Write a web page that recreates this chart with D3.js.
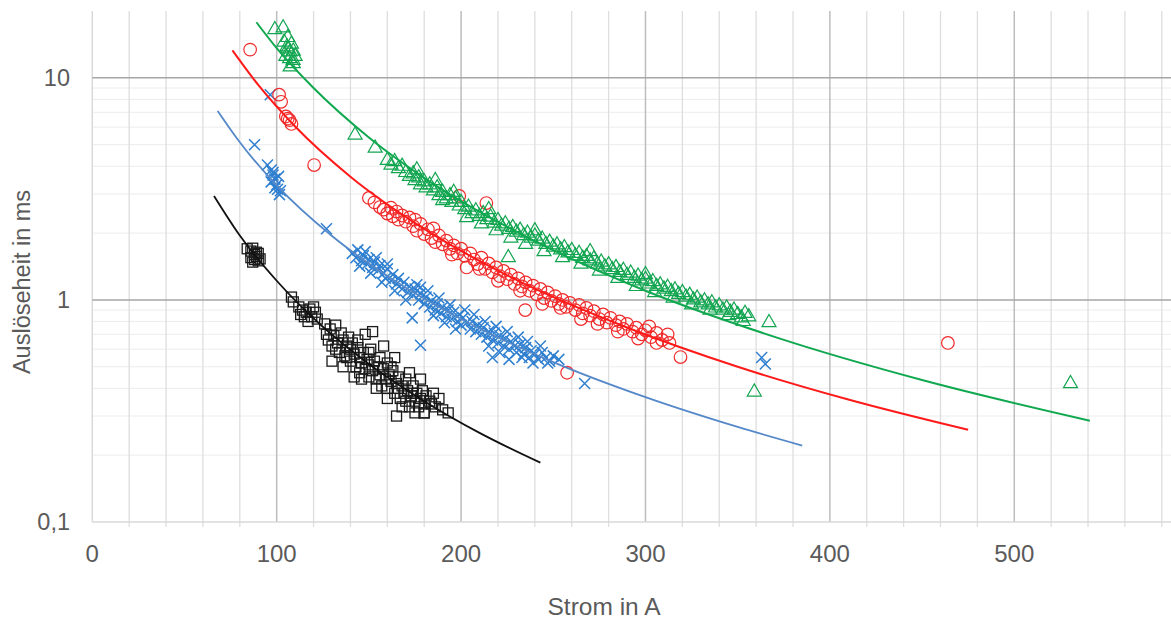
<!DOCTYPE html>
<html>
<head>
<meta charset="utf-8">
<script src="https://cdn.jsdelivr.net/npm/d3@7"></script>
<style>
  html, body { margin: 0; padding: 0; background: #fff; }
  svg { display: block; }
  text { font-family: "Liberation Sans", Arial, sans-serif; fill: #5a5a5a; }
</style>
</head>
<body>
<svg id="chart" width="1171" height="622"></svg>
<script>
// Measured trip times (ms) against current (A), four breaker types
const blackPts = [
  [84,1.70],[86,1.66],[87,1.71],[88,1.60],[88,1.52],[89,1.57],[90,1.50],[89,1.64],[86,1.55],[90,1.62],[91,1.53],[87,1.48],
  [108,1.03],[109,0.98],[112,0.93],[114,0.90],[116,0.88],[118,0.91],[115,0.84],[113,0.86],[120,0.93],[119,0.84],[117,0.80],[121,0.88],[122,0.82],
  [126,0.78],[127,0.70],[128,0.66],[129,0.74],[130,0.62],[131,0.69],[132,0.77],[133,0.64],[134,0.58],[135,0.71],[136,0.66],[137,0.56],
  [138,0.62],[139,0.68],[140,0.60],[140,0.53],[141,0.64],[142,0.57],[143,0.50],[144,0.61],[145,0.55],[145,0.47],[146,0.52],[147,0.58],
  [148,0.49],[149,0.54],[150,0.45],[150,0.51],[151,0.60],[152,0.48],[153,0.53],[154,0.44],[155,0.50],[156,0.46],[157,0.41],[158,0.49],
  [159,0.44],[160,0.52],[160,0.40],[161,0.46],[162,0.43],[163,0.48],[164,0.38],[165,0.42],[165,0.30],[166,0.45],[167,0.36],[168,0.41],
  [169,0.38],[170,0.44],[170,0.35],[171,0.39],[172,0.33],[173,0.37],[174,0.41],[175,0.35],[176,0.38],[177,0.33],[178,0.36],[179,0.39],
  [180,0.34],[180,0.31],[181,0.37],[183,0.35],[185,0.38],[186,0.33],[188,0.36],[190,0.32],[193,0.31],
  [152,0.72],[148,0.70],[158,0.62],[164,0.55],[172,0.47],[178,0.44],
  [130,0.53],[136,0.50],[142,0.45],[154,0.40],[160,0.36],[168,0.33],[175,0.31],[180,0.31],
  [132,0.60],[138,0.55],[144,0.66],[146,0.44],[156,0.55],[162,0.50],[166,0.40],[174,0.38],[184,0.34],[150,0.58]
];
const bluePts = [
  [88,5.0],[96.5,8.4],[95,4.05],[97,3.85],[98,3.65],[99,3.5],[100,3.3],[100.5,3.15],[101.5,2.98],[97,3.4],[99,3.2],[102,3.1],[98,3.75],[101,3.6],
  [127,2.09],
  [141,1.62],[143,1.55],[144,1.68],[146,1.50],[147,1.58],[149,1.45],[150,1.52],[152,1.40],[153,1.48],[155,1.36],[156,1.43],[158,1.32],
  [159,1.25],[160,1.38],[162,1.22],[163,1.30],[165,1.18],[166,1.25],[168,1.12],[169,1.20],[171,1.08],[172,1.15],[174,1.05],[175,1.12],
  [177,1.00],[178,1.07],[180,0.96],[181,1.03],[183,0.93],[184,0.99],[186,0.90],[187,0.96],[189,0.87],[190,0.93],[192,0.84],[193,0.90],
  [195,0.82],[196,0.88],[198,0.80],[199,0.86],[200,0.77],[201,0.83],[203,0.79],[205,0.74],[206,0.80],[208,0.72],[209,0.77],[211,0.70],
  [212,0.75],[214,0.68],[215,0.72],[217,0.66],[218,0.71],[220,0.64],[221,0.69],[223,0.62],[224,0.67],[226,0.60],[227,0.65],[229,0.62],
  [230,0.58],[232,0.63],[234,0.57],[235,0.61],[237,0.55],[238,0.59],[240,0.57],[242,0.54],[244,0.58],[246,0.55],[248,0.53],[250,0.56],[253,0.54],
  [176,1.17],[182,1.10],[188,1.02],[194,0.95],[202,0.90],[207,0.86],[213,0.80],[219,0.76],[225,0.72],[231,0.68],[236,0.65],[243,0.62],
  [215,0.62],[221,0.58],[217,0.55],[226,0.54],[233,0.55],[239,0.52],[247,0.52],[197,0.74],[191,0.79],[185,0.85],[170,1.00],[164,1.10],
  [157,1.20],[151,1.32],[160,1.45],[154,1.55],[148,1.65],[145,1.42],[178,1.14],
  [173.5,0.83],[178,0.625],[267,0.42],[363,0.55],[365,0.515]
];
const redPts = [
  [85.6,13.4],[101.3,8.4],[102.4,7.8],[105,6.7],[107,6.45],[108,6.2],[106,6.55],[120.3,4.05],
  [150,2.88],[153,2.75],[156,2.62],[158,2.55],[160,2.45],[162,2.60],[163,2.38],[165,2.50],[166,2.30],[168,2.40],[170,2.25],[172,2.35],
  [174,2.15],[176,2.05],[178,2.20],[180,1.98],[182,2.08],[184,1.90],[186,1.82],[188,1.95],[190,1.78],[192,1.85],[194,1.70],[196,1.76],
  [198,1.62],[200,1.70],[202,1.58],[203,1.40],[205,1.62],[207,1.52],[209,1.45],[211,1.55],[213,1.38],[215,1.46],[217,1.33],[219,1.40],
  [221,1.28],[223,1.35],[225,1.24],[227,1.30],[229,1.18],[231,1.25],[233,1.15],[235,1.20],[237,1.10],[239,1.16],[241,1.06],[243,1.12],
  [245,1.02],[247,1.08],[249,0.99],[251,1.04],[253,0.96],[255,1.00],[257,0.93],[259,0.97],[262,0.90],[264,0.95],[266,0.87],[268,0.92],
  [270,0.85],[272,0.89],[275,0.82],[277,0.86],[279,0.79],[281,0.83],[284,0.77],[286,0.80],[288,0.74],[290,0.78],[293,0.72],[295,0.75],
  [298,0.70],[300,0.73],[303,0.68],[306,0.71],[309,0.66],[313,0.64],
  [175,2.30],[185,2.10],[195,1.60],[210,1.38],[220,1.22],[232,1.10],[244,0.96],[254,0.92],[265,0.82],[274,0.78],[285,0.72],[296,0.67],
  [306,0.64],[312,0.70],[302,0.76],
  [199,2.94],[213.7,2.73],[234.8,0.90],[257.5,0.47],[319,0.553],[464,0.64]
];
const greenPts = [
  [99,16.5],[103.5,16.8],[105.6,13.8],[107.3,13.1],[108.9,12.0],[107.3,11.2],[104,14.5],[106,15.2],[108,14.2],[109,13.2],[105,12.5],
  [110,12.5],[107,12.2],[109,11.6],[106,13.5],
  [142.5,5.53],[153.4,4.83],
  [160,4.25],[162,4.05],[164,4.20],[166,3.90],[168,4.00],[170,3.75],[172,3.60],[174,3.70],[175,3.45],[177,3.55],[178,3.30],[180,3.40],
  [181,3.20],[183,3.30],[185,3.10],[187,3.20],[188,2.95],[190,3.05],[192,2.85],[194,2.95],[195,2.75],[197,2.85],[199,2.65],[200,2.75],
  [202,2.55],[204,2.62],[206,2.45],[208,2.52],[210,2.38],[212,2.45],[214,2.30],[216,2.36],[218,2.22],[220,2.28],[222,2.15],[224,2.20],
  [226,2.08],[228,2.12],[230,2.02],[232,2.06],[234,1.95],[236,2.00],[238,1.90],[240,1.94],[242,1.84],[244,1.88],[246,1.78],[248,1.82],
  [250,1.73],[252,1.77],[254,1.68],[256,1.72],[258,1.63],[260,1.67],[262,1.58],[264,1.62],[266,1.54],[268,1.57],[270,1.50],[272,1.53],
  [274,1.45],[276,1.48],[278,1.41],[280,1.44],[282,1.37],[284,1.40],[286,1.33],[288,1.36],[290,1.29],[292,1.32],[294,1.25],[296,1.28],
  [298,1.22],[300,1.24],[302,1.18],[304,1.21],[306,1.15],[308,1.17],[310,1.12],[312,1.14],[314,1.09],[316,1.11],[318,1.06],[320,1.08],
  [322,1.03],[324,1.05],[326,1.00],[328,1.02],[330,0.97],[332,0.99],[334,0.95],[336,0.97],[338,0.92],[340,0.94],[342,0.90],[344,0.92],
  [346,0.88],[348,0.90],[350,0.86],[352,0.83],[354,0.87],[356,0.84],
  [176,3.85],[186,3.45],[196,3.05],[203,2.35],[211,2.20],[219,2.05],[227,1.90],[235,1.78],[245,1.65],[255,1.55],[265,1.45],[275,1.35],
  [285,1.25],[295,1.15],[305,1.08],[315,1.02],[325,0.95],[335,0.90],[345,0.85],[353,0.80],[190,2.80],[215,2.55],[240,2.05],[270,1.65],[300,1.30],
  [225.6,1.55],[359,0.385],[367,0.79],[530.5,0.42]
];

// Power-law trend lines, sampled along the fitted curves
const blackTrendX = [66, 80, 100, 125, 150, 180, 210, 243];
const blackTrendY = [2.94, 1.95, 1.22, 0.757, 0.515, 0.350, 0.252, 0.185];
const blueTrendX  = [68, 80, 100, 130, 160, 200, 250, 300, 350, 385];
const blueTrendY  = [7.10, 5.13, 3.28, 1.94, 1.28, 0.82, 0.525, 0.365, 0.268, 0.221];
const redTrendX   = [76, 90, 110, 140, 180, 230, 290, 350, 410, 475];
const redTrendY   = [13.3, 9.29, 6.04, 3.59, 2.09, 1.23, 0.751, 0.500, 0.356, 0.260];
const greenTrendX = [89, 100, 120, 150, 190, 240, 300, 370, 450, 541];
const greenTrendY = [17.8, 13.6, 9.0, 5.39, 3.13, 1.84, 1.10, 0.682, 0.436, 0.286];

// Axis ticks
const xMajorTicks = [0, 100, 200, 300, 400, 500];
const xMinorTicks = d3.range(20, 585, 20).filter(v => v % 100 !== 0);
const yMajorTicks = [0.1, 1, 10];
const yTickLabels = ["0,1", "1", "10"];
const yMinorTicks = [2, 3, 4, 5, 6, 7, 8, 9, 0.2, 0.3, 0.4, 0.5, 0.6, 0.7, 0.8, 0.9];

const xTitle = "Strom in A";
const yTitle = "Auslöseheit in ms";

(function draw() {
  const svg = d3.select("#chart");
  const pLeft = 92.3, pRight = 1171, pTop = 11, pBottom = 522;

  const x = d3.scaleLinear().domain([0, 585]).range([pLeft, pRight]);
  const y = d3.scaleLog().domain([0.1, 20]).range([pBottom, pTop]);

  const grid = svg.append("g");

  // minor horizontal grid lines
  grid.selectAll(".hmin").data(yMinorTicks).join("line")
    .attr("x1", pLeft).attr("x2", pRight)
    .attr("y1", d => y(d)).attr("y2", d => y(d))
    .attr("stroke", "#ececec").attr("stroke-width", 1);

  // minor vertical grid lines (with small outside ticks)
  grid.selectAll(".vmin").data(xMinorTicks).join("line")
    .attr("x1", d => x(d)).attr("x2", d => x(d))
    .attr("y1", pTop).attr("y2", pBottom + 5)
    .attr("stroke", "#dedede").attr("stroke-width", 1.3);

  // major vertical grid lines
  grid.selectAll(".vmaj").data(xMajorTicks).join("line")
    .attr("x1", d => x(d)).attr("x2", d => x(d))
    .attr("y1", pTop).attr("y2", pBottom)
    .attr("stroke", d => d === 0 ? "#d9d9d9" : "#bdbdbd").attr("stroke-width", 1.5);

  // major horizontal grid lines
  grid.selectAll(".hmaj").data(yMajorTicks).join("line")
    .attr("x1", pLeft).attr("x2", pRight)
    .attr("y1", d => y(d)).attr("y2", d => y(d))
    .attr("stroke", d => d === 0.1 ? "#d9d9d9" : "#a6a6a6").attr("stroke-width", 1.5);

  // tick labels
  svg.selectAll(".xl").data(xMajorTicks).join("text")
    .attr("x", d => x(d)).attr("y", 562)
    .attr("text-anchor", "middle").attr("font-size", 24)
    .text(d => d);

  svg.selectAll(".yl").data(yMajorTicks).join("text")
    .attr("x", 70).attr("y", d => y(d) + 8)
    .attr("text-anchor", "end").attr("font-size", 23.5)
    .text((d, i) => yTickLabels[i]);

  svg.append("text").attr("x", 604).attr("y", 615)
    .attr("text-anchor", "middle").attr("font-size", 24.5).text(xTitle);

  svg.append("text")
    .attr("transform", "translate(30, 282) rotate(-90)")
    .attr("text-anchor", "middle").attr("font-size", 23.5).text(yTitle);

  const plot = svg.append("g");

  // markers
  const sq = 10;
  plot.append("g").selectAll("rect").data(blackPts).join("rect")
    .attr("x", d => x(d[0]) - sq / 2).attr("y", d => y(d[1]) - sq / 2)
    .attr("width", sq).attr("height", sq)
    .attr("fill", "none").attr("stroke", "#1a1a1a").attr("stroke-width", 1.3);

  const cr = 5.5;
  plot.append("g").selectAll("path").data(bluePts).join("path")
    .attr("d", d => {
      const cx = x(d[0]), cy = y(d[1]);
      return `M${cx - cr},${cy - cr}L${cx + cr},${cy + cr}M${cx - cr},${cy + cr}L${cx + cr},${cy - cr}`;
    })
    .attr("stroke", "#2f7fd0").attr("stroke-width", 1.5).attr("fill", "none");

  plot.append("g").selectAll("circle").data(redPts).join("circle")
    .attr("cx", d => x(d[0])).attr("cy", d => y(d[1])).attr("r", 6.3)
    .attr("fill", "none").attr("stroke", "#f02a2a").attr("stroke-width", 1.2);

  const tri = d3.symbol().type(d3.symbolTriangle).size(85);
  plot.append("g").selectAll("path").data(greenPts).join("path")
    .attr("transform", d => `translate(${x(d[0])},${y(d[1])})`)
    .attr("d", tri)
    .attr("fill", "none").attr("stroke", "#12a550").attr("stroke-width", 1.2);

  // trend lines
  const line = d3.line().x(d => x(d[0])).y(d => y(d[1])).curve(d3.curveMonotoneX);
  const trends = [
    [blackTrendX, blackTrendY, "#111111", 1.8],
    [blueTrendX, blueTrendY, "#5588c8", 1.8],
    [redTrendX, redTrendY, "#ff1a1a", 2],
    [greenTrendX, greenTrendY, "#10a84f", 2]
  ];
  trends.forEach(([xs, ys, c, w]) => {
    plot.append("path")
      .attr("d", line(xs.map((v, i) => [v, ys[i]])))
      .attr("fill", "none").attr("stroke", c).attr("stroke-width", w);
  });
})();
</script>
</body>
</html>
